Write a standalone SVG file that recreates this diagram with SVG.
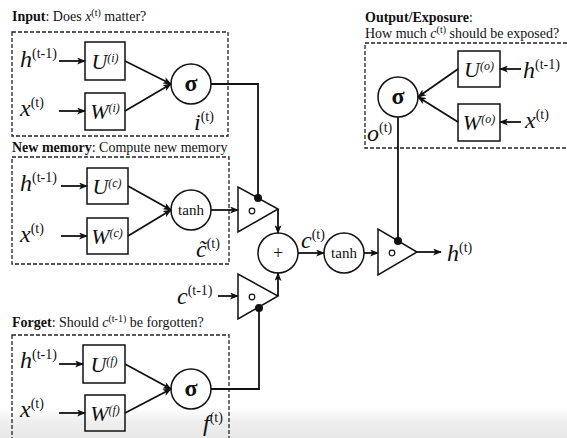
<svg xmlns="http://www.w3.org/2000/svg" width="567" height="438" viewBox="0 0 567 438" font-family="'Liberation Serif', 'Times New Roman', Tinos, 'Noto Serif', 'DejaVu Serif', serif">
  <style>
    text { font-family: "Liberation Serif", "Times New Roman", Tinos, "Noto Serif", "DejaVu Serif", serif; fill: #111; }
    .title { font-size: 14px; }
    .b { font-weight: bold; }
    .var { font-size: 24px; font-style: italic; }
    .sup { font-size: 14px; font-style: normal; }
    .bvar { font-size: 22px; font-style: italic; }
    .bsup { font-size: 12px; font-style: italic; }
    .tsup { font-size: 10px; font-style: normal; }
    .frame { fill: none; stroke: #222; stroke-width: 1.3; stroke-dasharray: 4 2; }
    .box { fill: none; stroke: #111; stroke-width: 1.5; }
    .op { fill: none; stroke: #111; stroke-width: 1.5; }
    .gate { fill: none; stroke: #111; stroke-width: 1.5; stroke-linejoin: miter; }
    .wire { fill: none; stroke: #111; stroke-width: 1.8; }
    .arrow { marker-end: url(#tip); }
    .dot { fill: #111; }
    .ring { fill: none; stroke: #111; stroke-width: 1.2; }
  </style>
  <defs>
    <marker id="tip" viewBox="0 0 10 8" refX="9" refY="4" markerWidth="9" markerHeight="7" markerUnits="userSpaceOnUse" orient="auto">
      <path d="M0,0 L10,4 L0,8 L2.5,4 Z" fill="#111"/>
    </marker>
    <linearGradient id="fade" x1="0" y1="0" x2="0" y2="1">
      <stop offset="0" stop-color="#ffffff"/>
      <stop offset="0.45" stop-color="#efefef"/>
      <stop offset="1" stop-color="#e8e8e8"/>
    </linearGradient>
  </defs>

  <!-- page background with a soft shade along the lower edge -->
  <rect x="0" y="0" width="567" height="438" fill="#fff"/>
  <rect x="0" y="408" width="567" height="30" fill="url(#fade)"/>

  <!-- Input gate -->
  <g id="input-gate">
    <text class="title" x="12" y="21"><tspan class="b">Input</tspan>: Does <tspan font-style="italic">x</tspan><tspan class="tsup" dy="-5">(t)</tspan><tspan dy="5"> matter?</tspan></text>
    <rect class="frame" x="12" y="32" width="216" height="104"/>
    <text x="20" y="67"><tspan class="var">h</tspan><tspan class="sup" dy="-9">(t-1)</tspan></text>
    <text x="20" y="116"><tspan class="var">x</tspan><tspan class="sup" dy="-9">(t)</tspan></text>
    <g id="U-i"><rect class="box" x="85" y="42" width="40" height="38"/>
      <text x="105" y="69" text-anchor="middle"><tspan class="bvar">U</tspan><tspan class="bsup" dy="-7">(i)</tspan></text></g>
    <g id="W-i"><rect class="box" x="85" y="93" width="40" height="37"/>
      <text x="105" y="119" text-anchor="middle"><tspan class="bvar">W</tspan><tspan class="bsup" dy="-7">(i)</tspan></text></g>
    <g id="sigma-i"><circle class="op" cx="191" cy="84" r="20"/>
      <text x="191" y="91" text-anchor="middle" font-size="24" font-weight="bold">σ</text></g>
    <text x="194" y="130"><tspan class="var" font-size="21">i</tspan><tspan class="sup" dy="-9">(t)</tspan></text>
  </g>

  <!-- New memory -->
  <g id="new-memory">
    <text class="title" x="12" y="152"><tspan class="b">New memory</tspan>: Compute new memory</text>
    <rect class="frame" x="12" y="157" width="217" height="107"/>
    <text x="20" y="191"><tspan class="var">h</tspan><tspan class="sup" dy="-9">(t-1)</tspan></text>
    <text x="20" y="242"><tspan class="var">x</tspan><tspan class="sup" dy="-9">(t)</tspan></text>
    <g id="U-c"><rect class="box" x="87" y="168" width="41" height="36"/>
      <text x="107" y="194" text-anchor="middle"><tspan class="bvar">U</tspan><tspan class="bsup" dy="-7">(c)</tspan></text></g>
    <g id="W-c"><rect class="box" x="87" y="218" width="41" height="36"/>
      <text x="107" y="244" text-anchor="middle"><tspan class="bvar">W</tspan><tspan class="bsup" dy="-7">(c)</tspan></text></g>
    <g id="tanh-c"><circle class="op" cx="191" cy="210" r="20"/>
      <text x="191" y="215" text-anchor="middle" font-size="15">tanh</text></g>
    <text x="196" y="257"><tspan class="var">c&#771;</tspan><tspan class="sup" dy="-9">(t)</tspan></text>
  </g>

  <!-- Forget gate -->
  <g id="forget-gate">
    <text class="title" x="12" y="327"><tspan class="b">Forget</tspan>: Should <tspan font-style="italic">c</tspan><tspan class="tsup" dy="-5">(t-1)</tspan><tspan dy="5"> be forgotten?</tspan></text>
    <rect class="frame" x="12" y="335" width="217" height="112"/>
    <text x="20" y="368"><tspan class="var">h</tspan><tspan class="sup" dy="-9">(t-1)</tspan></text>
    <text x="20" y="417"><tspan class="var">x</tspan><tspan class="sup" dy="-9">(t)</tspan></text>
    <g id="U-f"><rect class="box" x="83" y="345" width="42" height="38"/>
      <text x="104" y="372" text-anchor="middle"><tspan class="bvar">U</tspan><tspan class="bsup" dy="-7">(f)</tspan></text></g>
    <g id="W-f"><rect class="box" x="85" y="395" width="40" height="36"/>
      <text x="105" y="421" text-anchor="middle"><tspan class="bvar">W</tspan><tspan class="bsup" dy="-7">(f)</tspan></text></g>
    <g id="sigma-f"><circle class="op" cx="191" cy="389" r="20"/>
      <text x="191" y="396" text-anchor="middle" font-size="24" font-weight="bold">σ</text></g>
    <text x="203" y="431"><tspan class="var">f</tspan><tspan class="sup" dy="-9">(t)</tspan></text>
  </g>

  <!-- Output gate -->
  <g id="output-gate">
    <text class="title" x="365" y="22"><tspan class="b">Output/Exposure</tspan>:</text>
    <text class="title" x="365" y="38">How much <tspan font-style="italic">c</tspan><tspan class="tsup" dy="-5">(t)</tspan><tspan dy="5"> should be exposed?</tspan></text>
    <rect class="frame" x="365" y="43" width="210" height="105"/>
    <g id="U-o"><rect class="box" x="458" y="51" width="42" height="36"/>
      <text x="479" y="77" text-anchor="middle"><tspan class="bvar">U</tspan><tspan class="bsup" dy="-7">(o)</tspan></text></g>
    <g id="W-o"><rect class="box" x="458" y="104" width="42" height="37"/>
      <text x="479" y="130" text-anchor="middle"><tspan class="bvar">W</tspan><tspan class="bsup" dy="-7">(o)</tspan></text></g>
    <g id="sigma-o"><circle class="op" cx="398" cy="97" r="20"/>
      <text x="398" y="104" text-anchor="middle" font-size="24" font-weight="bold">σ</text></g>
    <text x="523" y="78"><tspan class="var">h</tspan><tspan class="sup" dy="-9">(t-1)</tspan></text>
    <text x="525" y="128"><tspan class="var">x</tspan><tspan class="sup" dy="-9">(t)</tspan></text>
    <text x="367" y="141"><tspan class="var">o</tspan><tspan class="sup" dy="-9">(t)</tspan></text>
  </g>

  <!-- Gating and cell update -->
  <g id="gate-new">
    <polygon class="gate" points="238,187 238,232 278,209"/>
    <circle class="ring" cx="252" cy="211" r="2.8"/>
  </g>
  <g id="gate-old">
    <polygon class="gate" points="238,274 238,319 278,296"/>
    <circle class="ring" cx="252" cy="297" r="2.8"/>
  </g>
  <g id="sum">
    <circle class="op" cx="278" cy="253" r="20"/>
    <text x="278" y="259" text-anchor="middle" font-size="18">+</text>
  </g>
  <g id="c-prev">
    <text x="177" y="304"><tspan class="var">c</tspan><tspan class="sup" dy="-9">(t-1)</tspan></text>
  </g>
  <g id="tanh-out">
    <circle class="op" cx="344" cy="253" r="20"/>
    <text x="344" y="258" text-anchor="middle" font-size="15">tanh</text>
  </g>
  <g id="gate-out">
    <polygon class="gate" points="378,229 378,275 417,252"/>
    <circle class="ring" cx="392" cy="253" r="2.8"/>
  </g>
  <g id="c-t"><text x="301" y="248"><tspan class="var">c</tspan><tspan class="sup" dy="-9">(t)</tspan></text></g>
  <g id="h-t"><text x="447" y="261"><tspan class="var">h</tspan><tspan class="sup" dy="-9">(t)</tspan></text></g>

  <!-- Connectors -->
  <g id="connectors">
    <!-- inputs into weight boxes -->
    <line class="wire arrow" x1="59" y1="61" x2="85" y2="61"/>
    <line class="wire arrow" x1="59" y1="111" x2="85" y2="111"/>
    <line class="wire arrow" x1="61" y1="186" x2="87" y2="186"/>
    <line class="wire arrow" x1="61" y1="236" x2="87" y2="236"/>
    <line class="wire arrow" x1="59" y1="364" x2="83" y2="364"/>
    <line class="wire arrow" x1="59" y1="413" x2="85" y2="413"/>
    <line class="wire arrow" x1="521" y1="69" x2="500" y2="69"/>
    <line class="wire arrow" x1="521" y1="122" x2="500" y2="122"/>
    <!-- weight boxes into activations -->
    <line class="wire arrow" x1="125" y1="61" x2="171" y2="84"/>
    <line class="wire arrow" x1="125" y1="111" x2="171" y2="84"/>
    <line class="wire arrow" x1="128" y1="186" x2="171" y2="210"/>
    <line class="wire arrow" x1="128" y1="236" x2="171" y2="210"/>
    <line class="wire arrow" x1="125" y1="364" x2="171" y2="389"/>
    <line class="wire arrow" x1="125" y1="413" x2="171" y2="389"/>
    <line class="wire arrow" x1="458" y1="69" x2="418" y2="97"/>
    <line class="wire arrow" x1="458" y1="122" x2="418" y2="97"/>
    <!-- gate signals -->
    <polyline class="wire" points="211,84 258,84 258,198"/>
    <polyline class="wire" points="211,389 259,389 259,308"/>
    <line class="wire" x1="398" y1="117" x2="398" y2="241"/>
    <circle class="dot" cx="258" cy="198" r="4"/>
    <circle class="dot" cx="259" cy="308" r="4"/>
    <circle class="dot" cx="398" cy="241" r="4"/>
    <!-- data path -->
    <line class="wire arrow" x1="211" y1="210" x2="238" y2="210"/>
    <line class="wire arrow" x1="218" y1="296" x2="238" y2="296"/>
    <line class="wire arrow" x1="278" y1="209" x2="278" y2="233"/>
    <line class="wire arrow" x1="278" y1="296" x2="278" y2="273"/>
    <line class="wire arrow" x1="298" y1="253" x2="324" y2="253"/>
    <line class="wire arrow" x1="364" y1="253" x2="378" y2="253"/>
    <line class="wire arrow" x1="417" y1="252" x2="441" y2="252"/>
  </g>
</svg>
